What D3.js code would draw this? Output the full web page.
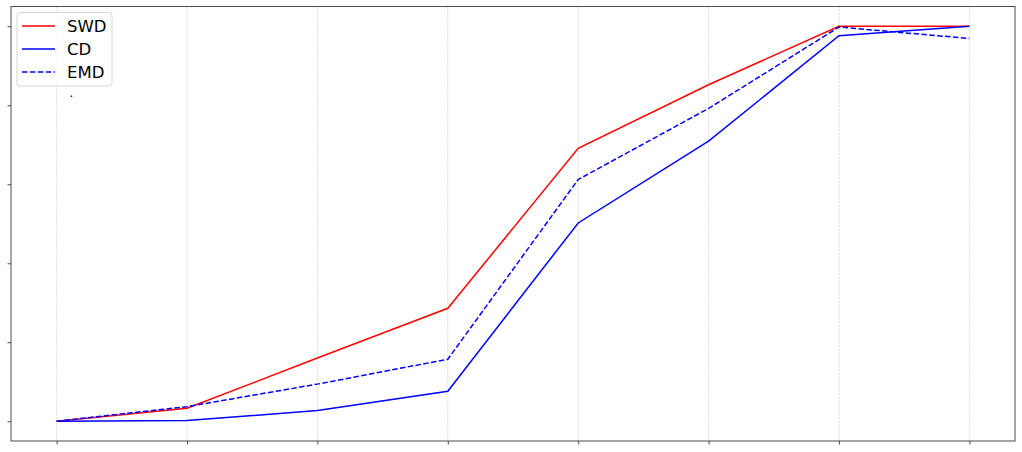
<!DOCTYPE html>
<html>
<head>
<meta charset="utf-8">
<script src="https://cdn.jsdelivr.net/npm/d3@7"></script>
<style>
  html, body { margin: 0; padding: 0; background: #fff; }
  svg { display: block; }
</style>
</head>
<body>
<svg id="chart" width="1022" height="452"></svg>
<script>
const xIndex = [0, 1, 2, 3, 4, 5, 6, 7];
const yTicks = [0, 0.2, 0.4, 0.6, 0.8, 1.0];
const swd = [0, 0.033, 0.160, 0.286, 0.691, 0.852, 1.0, 1.0];
const cd  = [0, 0.002, 0.027, 0.076, 0.502, 0.709, 0.976, 1.0];
const emd = [0, 0.037, 0.094, 0.157, 0.612, 0.792, 0.998, 0.969];
const seriesNames = ["SWD", "CD", "EMD"];

const series = [
  {name: seriesNames[0], values: swd, color: "#ff0000", dash: null},
  {name: seriesNames[1], values: cd,  color: "#0000ff", dash: null},
  {name: seriesNames[2], values: emd, color: "#0000ff", dash: "5.5,2.4"}
];

const svg = d3.select("#chart");
const L = 11, R = 1015, T = 6.5, B = 441;

const x = d3.scaleLinear().domain([-0.35, 7.35]).range([L, R]);
const y = d3.scaleLinear().domain([-0.05, 1.05]).range([B, T]);

// vertical grid
svg.append("g").selectAll("line").data(xIndex).join("line")
  .attr("x1", d => x(d)).attr("x2", d => x(d))
  .attr("y1", T).attr("y2", B)
  .attr("stroke", "#b0b0b0").attr("stroke-width", 0.6)
  .attr("stroke-dasharray", "1.8,1.2").attr("opacity", 0.8);

// axes (ticks, no labels)
const xAxis = d3.axisBottom(x).tickValues(xIndex).tickSize(3.5).tickFormat("");
const yAxis = d3.axisLeft(y).tickValues(yTicks).tickSize(3.5).tickFormat("");
const gx = svg.append("g").attr("transform", `translate(0,${B})`).call(xAxis);
const gy = svg.append("g").attr("transform", `translate(${L},0)`).call(yAxis);
[gx, gy].forEach(g => {
  g.select(".domain").remove();
  g.selectAll(".tick line").attr("stroke", "#222").attr("stroke-width", 0.8);
});

// lines
const line = d3.line().x((d, i) => x(xIndex[i])).y(d => y(d));
series.forEach(s => {
  svg.append("path").datum(s.values)
    .attr("d", line)
    .attr("fill", "none")
    .attr("stroke", s.color)
    .attr("stroke-width", 1.5)
    .attr("stroke-dasharray", s.dash);
});

// frame
svg.append("rect").attr("x", L).attr("y", T).attr("width", R - L).attr("height", B - T)
  .attr("fill", "none").attr("stroke", "#222").attr("stroke-width", 0.8);

// stray dot annotation
svg.append("text").attr("x", 69.5).attr("y", 97).text(".")
  .attr("font-family", "DejaVu Sans").attr("font-size", 12).attr("fill", "#000");

// legend
const lg = svg.append("g");
lg.append("rect").attr("x", 17).attr("y", 12.5).attr("width", 95).attr("height", 73.5)
  .attr("rx", 3).attr("fill", "#fff").attr("fill-opacity", 0.8)
  .attr("stroke", "#cccccc").attr("stroke-width", 0.8);
series.forEach((s, i) => {
  const cy = 26 + i * 23;
  lg.append("line").attr("x1", 22).attr("x2", 55).attr("y1", cy).attr("y2", cy)
    .attr("stroke", s.color).attr("stroke-width", 1.5)
    .attr("stroke-dasharray", s.dash);
  lg.append("text").attr("x", 67).attr("y", cy + 6)
    .attr("font-family", "DejaVu Sans").attr("font-size", 16.5).attr("fill", "#000")
    .text(s.name);
});
</script>
</body>
</html>
